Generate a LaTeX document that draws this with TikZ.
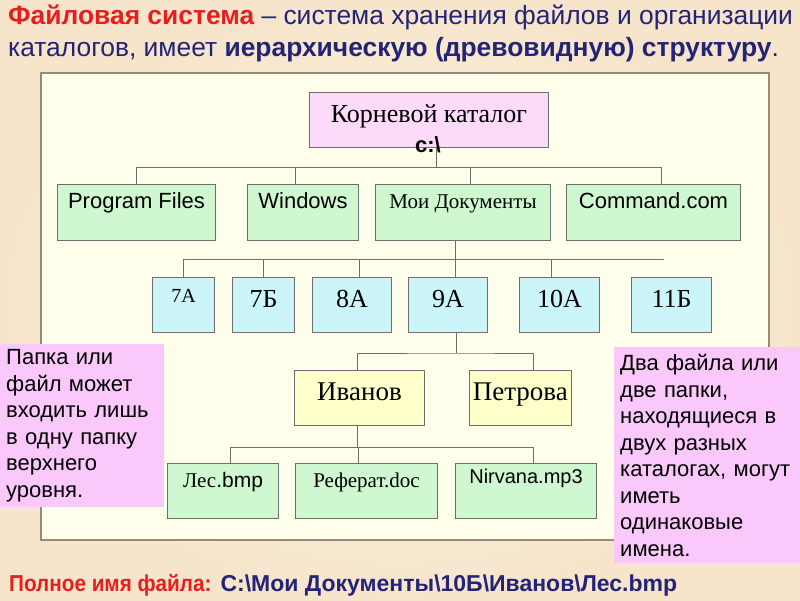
\documentclass[tikz,border=0pt]{standalone}
\usepackage{fontspec}
\setmainfont{Liberation Serif}
\setsansfont{Liberation Sans}
\newfontfamily\narrowsans[FakeStretch=0.9]{Liberation Sans}
\usepackage{tikz}
\usetikzlibrary{positioning,calc}
\definecolor{bgouter}{RGB}{246,229,203}
\definecolor{bginner}{RGB}{255,249,236}
\definecolor{panelfill}{RGB}{255,255,236}
\definecolor{panelline}{RGB}{150,140,120}
\definecolor{boxline}{RGB}{110,110,110}
\definecolor{rootpink}{RGB}{252,218,250}
\definecolor{notepink}{RGB}{250,200,250}
\definecolor{boxgreen}{RGB}{208,248,208}
\definecolor{boxblue}{RGB}{204,245,250}
\definecolor{boxyellow}{RGB}{255,255,204}
\definecolor{titlered}{RGB}{230,30,30}
\definecolor{titlenavy}{RGB}{35,35,120}

\begin{document}
\begin{tikzpicture}[x=1pt, y=-1pt, font=\sffamily]
\tikzstyle{box} = [rectangle, draw=boxline, line width=1pt, inner ysep=0pt, text height=30pt, text depth=25pt]
\tikzstyle{top} = [box, fill=rootpink, font=\rmfamily\fontsize{26}{30}\selectfont]
\tikzstyle{drive} = [box, fill=boxgreen, font=\sffamily\fontsize{22}{26}\selectfont, text height=24pt, text depth=32pt]
\tikzstyle{grade} = [box, fill=boxblue, font=\rmfamily\fontsize{26}{30}\selectfont]
\tikzstyle{pupil} = [box, fill=boxyellow, font=\rmfamily\fontsize{27}{30}\selectfont]
\tikzstyle{leaf} = [box, fill=boxgreen, font=\rmfamily\fontsize{21}{26}\selectfont, text height=24pt, text depth=31pt]
\tikzstyle{note} = [rectangle, fill=notepink, inner xsep=6pt, align=left, font=\sffamily\fontsize{22}{26.5}\selectfont]
\tikzstyle{link} = [draw=boxline, line width=1pt]

\useasboundingbox (0,0) rectangle (800,600);
\shade [inner color=bginner, outer color=bgouter] (0,0) rectangle (800,600);
\draw [draw=panelline, fill=panelfill, line width=1.3pt] (41,73) rectangle (769,540);

% heading
\node [anchor=north west, inner sep=0pt, align=left, text=titlenavy,
  font=\sffamily\fontsize{26.4}{32}\selectfont] (title) at (8,5)
  {{\bfseries\color{titlered}Файловая система} – система хранения файлов и организации\\
   каталогов, имеет {\bfseries иерархическую (древовидную) структуру}.};

% root
\node [top, minimum width=239pt, anchor=north west] (root) at (309,92) {Корневой каталог};
\node [anchor=base, inner sep=0pt, font=\sffamily\bfseries\fontsize{22}{26}\selectfont] (rootdrive) at (428,152) {c:\textbackslash};

% first level
\node [drive, minimum width=158pt, anchor=north west] (progfiles) at (57,184) {Program Files};
\node [drive, minimum width=111pt, right=31pt of progfiles] (windows) {Windows};
\node [drive, minimum width=175pt, right=16pt of windows, font=\rmfamily\fontsize{21}{26}\selectfont] (mydocs) {Мои Документы};
\node [drive, minimum width=174pt, right=15pt of mydocs] (command) {Command.com};

% classes
\node [grade, minimum width=62pt, anchor=north west, text height=25pt, text depth=30pt,
  font=\rmfamily\fontsize{20}{24}\selectfont] (c7a) at (152,277) {7А};
\node [grade, minimum width=62pt, right=17pt of c7a] (c7b) {7Б};
\node [grade, minimum width=79pt, right=17pt of c7b] (c8a) {8А};
\node [grade, minimum width=79pt, right=16pt of c8a] (c9a) {9А};
\node [grade, minimum width=80pt, right=31pt of c9a] (c10a) {10А};
\node [grade, minimum width=80pt, right=31pt of c10a] (c11b) {11Б};

% pupils
\node [pupil, minimum width=130pt, anchor=north west] (ivanov) at (294,370) {Иванов};
\node [pupil, minimum width=101pt, right=44pt of ivanov] (petrova) {Петрова};

% files
\node [leaf, minimum width=111pt, anchor=north west] (les) at (167,463) {Лес{\sffamily.bmp}};
\node [leaf, minimum width=142pt, right=16pt of les] (referat) {Реферат.doc};
\node [leaf, minimum width=141pt, right=17pt of referat, font=\sffamily\fontsize{20}{24}\selectfont,
  text height=20pt, text depth=35pt] (nirvana) {Nirvana.mp3};

% tree lines
\draw [link] ([xshift=7.5pt]root.south) -- ++(0,19) coordinate (busa);
\draw [link] (progfiles.north) |- ([xshift=8pt]command.north |- busa) -- ([xshift=8pt]command.north);
\draw [link] ([xshift=-8pt]windows.north) -- ([xshift=-8pt]windows.north |- busa);
\draw [link] ([xshift=7.5pt]mydocs.north) -- ([xshift=7.5pt]mydocs.north |- busa);

\draw [link] ([xshift=-7.5pt]mydocs.south) -- ++(0,18) coordinate (busb);
\draw [link] (c7a.north) |- ([xshift=-8pt]c11b.north |- busb);
\draw [link] (c7b.north) -- (c7b.north |- busb);
\draw [link] ([xshift=7.5pt]c8a.north) -- ([xshift=7.5pt]c8a.north |- busb);
\draw [link] ([xshift=7.5pt]c9a.north) -- ([xshift=7.5pt]c9a.north |- busb);
\draw [link] ([xshift=-8pt]c10a.north) -- ([xshift=-8pt]c10a.north |- busb);

\draw [link] ([xshift=8pt]c9a.south) -- ++(0,20) coordinate (busc);
\draw [link] ([xshift=-2pt]ivanov.north) |- (busc) -| ([xshift=13pt]petrova.north);

\draw [link] ([xshift=-2pt]ivanov.south) -- ++(0,21) coordinate (busd);
\draw [link] ([xshift=7.5pt]les.north) |- ([xshift=7.5pt]nirvana.north |- busd) -- ([xshift=7.5pt]nirvana.north);
\draw [link] ([xshift=-8pt]referat.north) -- ([xshift=-8pt]referat.north |- busd);

% side notes
\node [note, anchor=north west, text width=152pt, minimum height=163pt] (leftnote) at (0,344)
  {Папка или\\файл может\\входить лишь\\в одну папку\\верхнего\\уровня.};
\node [note, anchor=north west, text width=176pt, minimum height=216pt] (rightnote) at (614,347)
  {Два файла или\\две папки,\\находящиеся в\\двух разных\\каталогах, могут\\иметь\\одинаковые\\имена.};

% full name
\node [anchor=base west, inner sep=0pt, font=\bfseries\fontsize{23}{28}\selectfont] (fullname) at (9,591)
  {{\narrowsans\color{titlered}Полное имя файла:}\hspace{9pt}{\sffamily\color{titlenavy}C:\textbackslash Мои Документы\textbackslash 10Б\textbackslash Иванов\textbackslash Лес.bmp}};
\end{tikzpicture}
\end{document}
